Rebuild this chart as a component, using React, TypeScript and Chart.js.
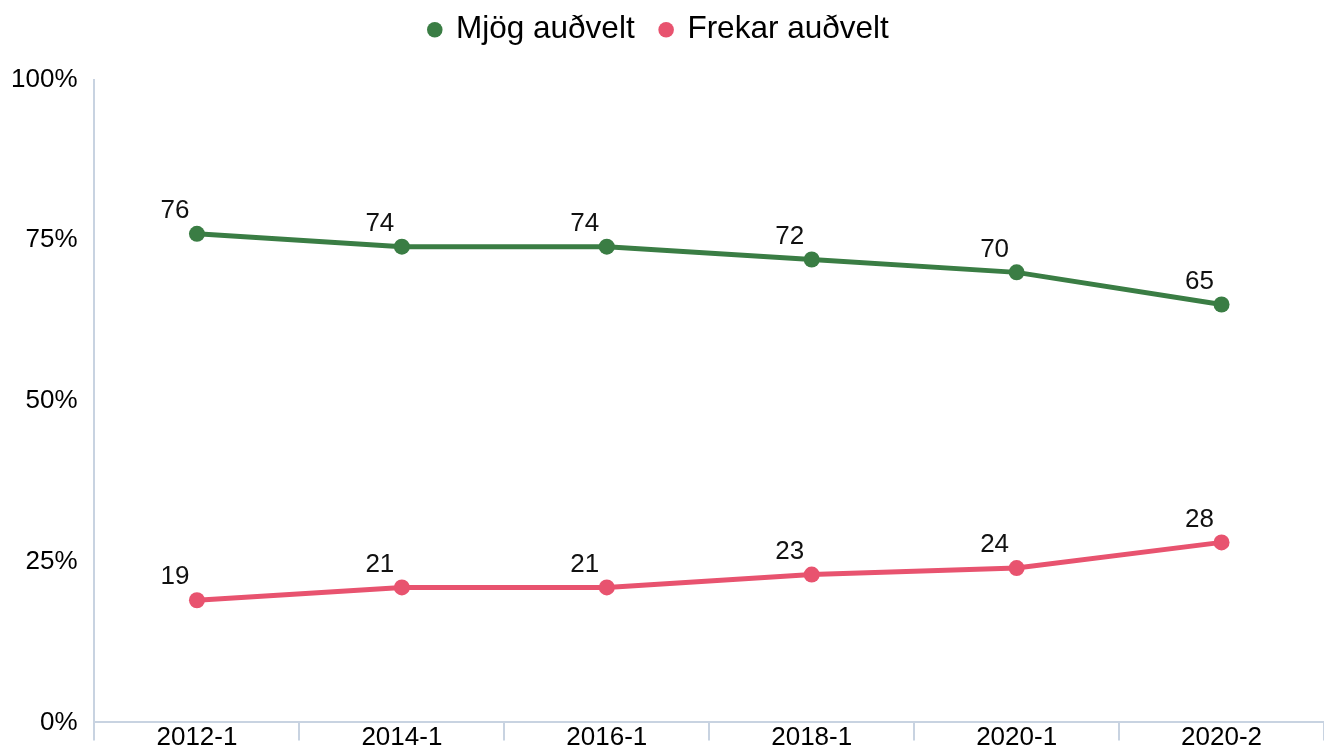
import React, { useEffect, useRef } from "react";
import { Chart, registerables } from "chart.js";

Chart.register(...registerables);

const categories = ["2012-1", "2014-1", "2016-1", "2018-1", "2020-1", "2020-2"];
const mjogAudvelt = [76, 74, 74, 72, 70, 65];
const frekarAudvelt = [19, 21, 21, 23, 24, 28];
const yTicks = [0, 25, 50, 75, 100];

const GREEN = "#3a7d44";
const PINK = "#e8536f";
const AXIS = "#c8d3e1";
const FONT = "'Liberation Sans', Arial, Helvetica, sans-serif";

export default function App() {
  const ref = useRef<HTMLCanvasElement | null>(null);

  useEffect(() => {
    if (!ref.current) return;
    document.body.style.margin = "0";
    const labelPlugin = {
      id: "pointLabels",
      afterDatasetsDraw(chart: any) {
        const ctx = chart.ctx;
        ctx.save();
        ctx.font = `26px ${FONT}`;
        ctx.fillStyle = "#111";
        ctx.textAlign = "center";
        ctx.textBaseline = "middle";
        chart.data.datasets.forEach((ds: any, i: number) => {
          const meta = chart.getDatasetMeta(i);
          meta.data.forEach((pt: any, j: number) => {
            ctx.fillText(String(ds.data[j]), pt.x - 22, pt.y - 23);
          });
        });
        ctx.restore();
      },
    };
    const legendGap = {
      id: "legendGap",
      beforeInit(chart: any) {
        const orig = chart.legend.fit;
        chart.legend.fit = function () {
          orig.bind(chart.legend)();
          this.height += 24;
        };
      },
    };
    const chart = new Chart(ref.current, {
      type: "line",
      data: {
        labels: categories,
        datasets: [
          {
            label: "Mjög auðvelt",
            data: mjogAudvelt,
            borderColor: GREEN,
            backgroundColor: GREEN,
            borderWidth: 5,
            pointRadius: 8,
            pointHoverRadius: 8,
            pointBorderWidth: 0,
            tension: 0,
          },
          {
            label: "Frekar auðvelt",
            data: frekarAudvelt,
            borderColor: PINK,
            backgroundColor: PINK,
            borderWidth: 5,
            pointRadius: 8,
            pointHoverRadius: 8,
            pointBorderWidth: 0,
            tension: 0,
          },
        ],
      },
      options: {
        animation: false,
        responsive: false,
        maintainAspectRatio: false,
        layout: { autoPadding: false, padding: { top: -12, left: -6, right: 0, bottom: -17 } },
        plugins: {
          legend: {
            position: "top",
            labels: {
              usePointStyle: true,
              pointStyle: "circle",
              boxWidth: 11,
              boxHeight: 11,
              padding: 26,
              color: "#000",
              font: { size: 31.5, family: FONT },
            },
          },
          tooltip: { enabled: false },
        },
        scales: {
          x: {
            offset: true,
            grid: {
              offset: true,
              drawOnChartArea: false,
              drawTicks: true,
              tickLength: 18,
              color: AXIS,
              lineWidth: 2,
            },
            border: { color: AXIS, width: 2 },
            ticks: {
              color: "#000",
              padding: -3,
              crossAlign: "center",
              font: { size: 26, family: FONT, lineHeight: 1.2 },
            },
          },
          y: {
            min: 0,
            max: 100,
            afterBuildTicks(scale: any) {
              scale.ticks = yTicks.map((v) => ({ value: v }));
            },
            grid: { drawOnChartArea: false, drawTicks: false },
            border: { color: AXIS, width: 2 },
            ticks: {
              color: "#000",
              padding: 17,
              font: { size: 26, family: FONT },
              callback: (v: any) => `${v}%`,
            },
          },
        },
      },
      plugins: [labelPlugin, legendGap],
    });
    return () => chart.destroy();
  }, []);

  return (
    <div style={{ position: "relative", width: 1324, height: 755, background: "#fff" }}>
      <canvas ref={ref} width={1324} height={755} style={{ display: "block", width: 1324, height: 755 }} />
    </div>
  );
}
